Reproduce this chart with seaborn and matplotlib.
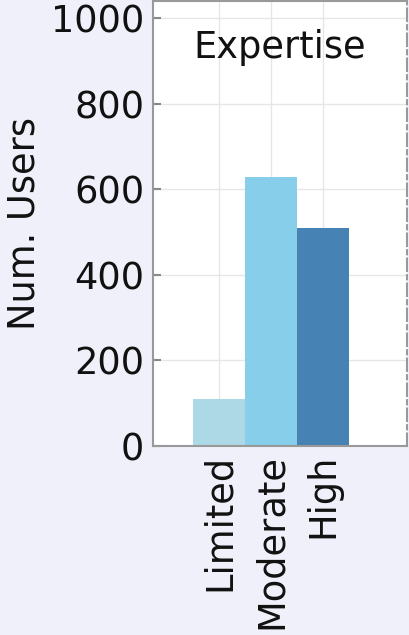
import matplotlib
matplotlib.use("Agg")
import matplotlib.pyplot as plt
import seaborn as sns
import pandas as pd

categories = ["Limited", "Moderate", "High"]
users = [110, 630, 510]
bar_colors = ["lightblue", "skyblue", "steelblue"]
y_ticks = [0, 200, 400, 600, 800, 1000]

df = pd.DataFrame({"Expertise": categories, "Users": users})

sns.set_theme(style="whitegrid")
plt.rcParams["font.family"] = ["DejaVu Sans"]
plt.rcParams["text.color"] = "#111111"
plt.rcParams["axes.labelcolor"] = "#111111"
plt.rcParams["xtick.labelcolor"] = "#111111"
plt.rcParams["ytick.labelcolor"] = "#111111"

fs = 26.5

fig = plt.figure(figsize=(4.09, 6.35), dpi=100, facecolor="#f0f0fa")
ax = fig.add_axes([0.373, 0.298, 0.621, 0.700])
ax.set_facecolor("white")

sns.barplot(data=df, x="Expertise", y="Users", hue="Expertise",
            palette=dict(zip(categories, bar_colors)), width=1.0,
            dodge=False, legend=False, saturation=1, linewidth=0, ax=ax)

ax.set_xlim(-1.275, 3.6)
ax.set_ylim(0, 1040)
ax.set_yticks(y_ticks)
ax.set_yticklabels([str(v) for v in y_ticks], fontsize=fs)
ax.set_xticks(range(len(categories)))
ax.set_xticklabels(categories, rotation=90, fontsize=fs)
ax.set_xlabel("")
ax.set_ylabel("Num. Users", fontsize=fs, labelpad=6)

ax.grid(True, color="#e6e6e6", linewidth=1.0)
ax.set_axisbelow(True)
ax.tick_params(axis="both", direction="in", length=6, width=1.5, color="#888888",
               pad=6, left=True, bottom=True)

for side, sp in ax.spines.items():
    sp.set_color("#999999")
    sp.set_linewidth(1.5)
ax.spines["right"].set_linestyle((0, (6, 2, 2, 2)))

ax.text(0.5, 0.897, "Expertise", transform=ax.transAxes, ha="center",
        va="center", fontsize=fs)

fig.savefig("out.png", dpi=100, facecolor=fig.get_facecolor())
